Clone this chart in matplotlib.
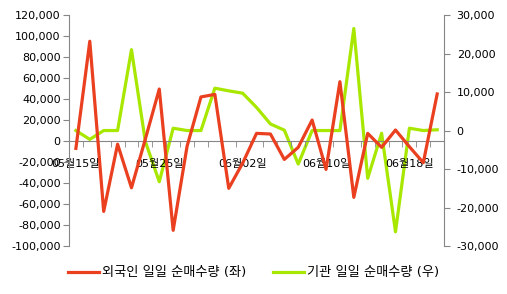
import matplotlib
matplotlib.use("Agg")
import matplotlib.pyplot as plt
from matplotlib.ticker import FuncFormatter

plt.rcParams['font.family'] = ['DejaVu Sans', 'Noto Sans CJK KR']

dates = ['05월15일', '05월18일', '05월19일', '05월20일', '05월21일', '05월22일',
         '05월25일', '05월26일', '05월27일', '05월28일', '05월29일', '06월01일',
         '06월02일', '06월03일', '06월04일', '06월05일', '06월08일', '06월09일',
         '06월10일', '06월11일', '06월12일', '06월15일', '06월16일', '06월17일',
         '06월18일', '06월19일', '06월22일']

# foreign investors, left axis
foreign = [-7000, 95000, -67000, -3000, -44500, 2000, 49500, -85000, -5000, 42000,
           44400, -45000, -21000, 7300, 6700, -17500, -6000, 20000, -27000, 56500,
           -53600, 7300, -6000, 10500, -5400, -20600, 44800]

# institutions, right axis
institution = [0, -2300, 0, 0, 21000, -2900, -13300, 600, 0, 0,
               11000, 10300, 9700, 6000, 1700, 100, -8700, 0, 0, 0,
               26500, -12400, -700, -26300, 600, 0, 200]

red = '#EA4020'
green = '#A8E800'
gray = '#868686'

fig = plt.figure(figsize=(5.07, 2.94), dpi=100)
ax = fig.add_axes([0.136, 0.163, 0.740, 0.786])
ax2 = ax.twinx()

x = list(range(len(dates)))
l1, = ax.plot(x, foreign, color=red, lw=2.3, label='외국인 일일 순매수량 (좌)', zorder=3)
l2, = ax2.plot(x, institution, color=green, lw=2.3, label='기관 일일 순매수량 (우)', zorder=2)

ax.set_xlim(-0.5, len(dates) - 0.5)
ax.set_ylim(-100000, 120000)
ax.set_yticks(range(-100000, 120001, 20000))
ax2.set_ylim(-30000, 30000)
ax2.set_yticks(range(-30000, 30001, 10000))

fmt = FuncFormatter(lambda v, p: f'{int(v):,}')
ax.yaxis.set_major_formatter(fmt)
ax2.yaxis.set_major_formatter(fmt)

ax.set_xticks([i for i in x if i % 6 == 0])
ax.set_xticklabels([dates[i] for i in x if i % 6 == 0])
ax.set_xticks([i + 0.5 for i in x[:-1]], minor=True)
ax.spines['bottom'].set_position(('data', 0))

for a in (ax, ax2):
    a.spines['top'].set_visible(False)
    for s in a.spines.values():
        s.set_color(gray)
ax.spines['right'].set_visible(False)
ax2.spines['left'].set_visible(False)
ax2.spines['bottom'].set_visible(False)

ax.tick_params(axis='y', labelsize=8, length=4, color=gray, pad=2)
ax2.tick_params(axis='y', labelsize=8, length=4, color=gray, pad=5)
ax.tick_params(axis='x', which='major', labelsize=8, length=0, pad=13)
ax.tick_params(axis='x', which='minor', length=4, color=gray)

ax.set_zorder(ax2.get_zorder() + 1)
ax.patch.set_visible(False)

fig.legend(handles=[l1, l2], loc='lower center', bbox_to_anchor=(0.5, 0.01), ncol=2,
           frameon=False, fontsize=9.5, handlelength=2.4, columnspacing=2.0,
           handletextpad=0.2)

fig.savefig('out.png', dpi=100)
